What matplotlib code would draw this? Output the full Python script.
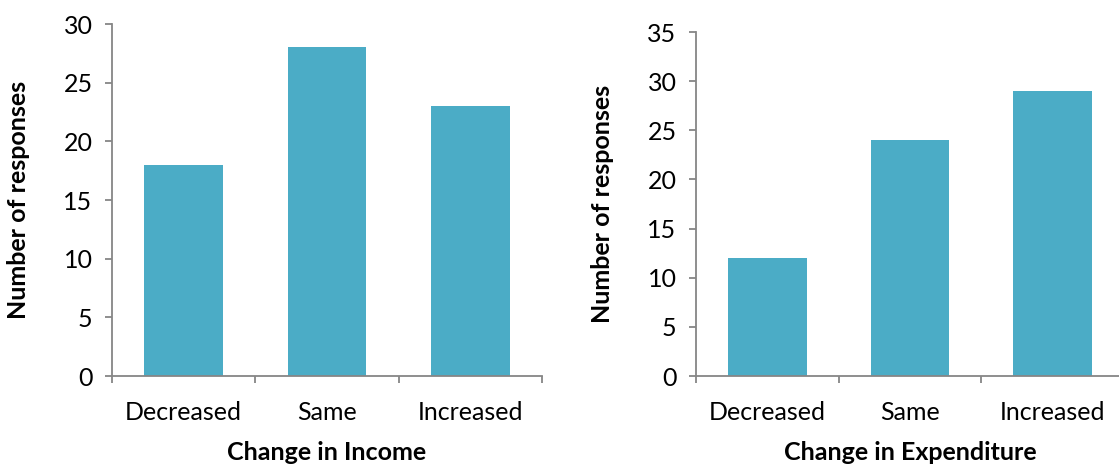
import matplotlib.pyplot as plt

categories = ["Decreased", "Same", "Increased"]
income = [18, 28, 23]
expenditure = [12, 24, 29]

bar_color = "#4BACC6"
axis_color = "#868686"

plt.rcParams["font.family"] = ["Lato", "DejaVu Sans"]
plt.rcParams["font.size"] = 18

W, H = 1119, 465
fig = plt.figure(figsize=(W / 100, H / 100), dpi=100)


def panel(rect, values, ymax, xlabel):
    x0, x1, y0, y1 = rect
    ax = fig.add_axes([x0 / W, (H - y0) / H, (x1 - x0) / W, (y0 - y1) / H])
    pos = range(len(categories))
    ax.bar(pos, values, width=0.55, color=bar_color, zorder=2)
    ax.set_xlim(-0.5, len(categories) - 0.5)
    ax.set_ylim(0, ymax)
    ax.set_yticks(range(0, ymax + 1, 5))
    ax.set_xticks(list(pos))
    ax.set_xticklabels(categories)
    # category boundaries get the tick marks, labels sit in between
    ax.set_xticks([i - 0.5 for i in range(len(categories) + 1)], minor=True)
    ax.tick_params(axis="x", which="major", length=0, pad=18)
    ax.tick_params(axis="x", which="minor", length=5, color=axis_color, width=1.3)
    ax.tick_params(axis="y", length=5, color=axis_color, width=1.3, pad=9)
    for s in ["top", "right"]:
        ax.spines[s].set_visible(False)
    for s in ["left", "bottom"]:
        ax.spines[s].set_color(axis_color)
        ax.spines[s].set_linewidth(1.3)
    ax.set_xlabel(xlabel, fontweight="bold", labelpad=12)
    ax.set_ylabel("Number of responses", fontweight="bold", labelpad=24)
    return ax


panel((112, 542, 376, 24), income, 30, "Change in Income")
panel((696, 1124, 376, 32), expenditure, 35, "Change in Expenditure")

fig.savefig("out.png", dpi=100)
